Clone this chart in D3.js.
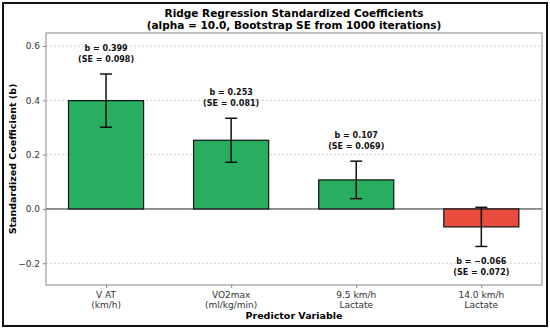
<!DOCTYPE html>
<html>
<head>
<meta charset="utf-8">
<script src="https://cdn.jsdelivr.net/npm/d3@7"></script>
<style>
body { margin: 0; background: #fff; }
text { font-family: "DejaVu Sans", sans-serif; }
</style>
</head>
<body>
<script>
// data
var predictors = ["V AT\n(km/h)", "VO2max\n(ml/kg/min)", "9.5 km/h\nLactate", "14.0 km/h\nLactate"];
var coefs = [0.399, 0.253, 0.107, -0.066];
var ses = [0.098, 0.081, 0.069, 0.072];
var yTicks = [-0.2, 0.0, 0.2, 0.4, 0.6];

var W = 550, H = 329;
var margin = {top: 33, right: 8, bottom: 44, left: 46};
var plotW = W - margin.left - margin.right,
    plotH = H - margin.top - margin.bottom;

var svg = d3.select("body").append("svg")
    .attr('width', W)
    .attr('height', H);

// outer frame
svg.append("rect")
    .attr('x', 3).attr('y', 3)
    .attr('width', W - 6).attr('height', H - 6)
    .attr('fill', "none")
    .attr('stroke', "#111")
    .attr('stroke-width', 2);

var g = svg.append("g")
    .attr('transform', "translate(" + margin.left + "," + margin.top + ")");

var x = d3.scaleLinear().domain([-0.48, 3.485]).range([0, plotW]);
var y = d3.scaleLinear().domain([-0.28, 0.648]).range([plotH, 0]);
var barW = x(0.6) - x(0);

// grid
g.selectAll("line.grid")
    .data(yTicks)
    .enter().append("line")
    .attr('class', "grid")
    .attr('x1', 0).attr('x2', plotW)
    .attr('y1', function(d){ return y(d); })
    .attr('y2', function(d){ return y(d); })
    .style('stroke', "#c8c8c8")
    .style('stroke-width', 0.8)
    .style('stroke-dasharray', "2,2");

// zero line
g.append("line")
    .attr('x1', 0).attr('x2', plotW)
    .attr('y1', y(0)).attr('y2', y(0))
    .style('stroke', "#333")
    .style('stroke-width', 1);

// bars
g.selectAll("rect.bar")
    .data(coefs)
    .enter().append("rect")
    .attr('class', "bar")
    .attr('x', function(d,i){ return x(i) - barW/2; })
    .attr('y', function(d){ return y(Math.max(d, 0)); })
    .attr('width', barW)
    .attr('height', function(d){ return Math.abs(y(d) - y(0)); })
    .style('fill', function(d){ return d >= 0 ? "#27ae60" : "#e74c3c"; })
    .style('stroke', "#111")
    .style('stroke-width', 1.2);

// error bars
var cap = 6;
coefs.forEach(function(d, i){
    var cx = x(i), lo = y(d - ses[i]), hi = y(d + ses[i]);
    var eb = g.append("g").style('stroke', "#111").style('stroke-width', 1.5);
    eb.append("line").attr('x1', cx).attr('x2', cx).attr('y1', lo).attr('y2', hi);
    eb.append("line").attr('x1', cx - cap).attr('x2', cx + cap).attr('y1', lo).attr('y2', lo);
    eb.append("line").attr('x1', cx - cap).attr('x2', cx + cap).attr('y1', hi).attr('y2', hi);

    var t = g.append("text")
        .attr('text-anchor', "middle")
        .style('font-size', "8px")
        .style('font-weight', "bold")
        .style('fill', "#111");
    var base = d >= 0 ? hi - 23 : lo + 18;
    t.append("tspan").attr('x', cx).attr('y', base).text("b = " + d.toFixed(3).replace("-", "\u2212"));
    t.append("tspan").attr('x', cx).attr('y', base + 10.5).text("(SE = " + ses[i].toFixed(3) + ")");
});

// spines
g.append("rect")
    .attr('x', 0).attr('y', 0)
    .attr('width', plotW).attr('height', plotH)
    .attr('fill', "none")
    .style('stroke', "#888")
    .style('stroke-width', 1);

// y axis
var yAxis = g.append("g")
    .call(d3.axisLeft(y).tickValues(yTicks).tickSize(3).tickPadding(3)
        .tickFormat(function(d){ return d3.format(".1f")(d).replace("-", "\u2212"); }));
yAxis.select("path.domain").remove();
yAxis.selectAll("line").style('stroke', "#888");
yAxis.selectAll("text").style('font-size', "9px").style('fill', "#333")
    .style('font-family', "DejaVu Sans");

// x axis
var xAxis = g.append("g")
    .attr('transform', "translate(0," + plotH + ")")
    .call(d3.axisBottom(x).tickValues(d3.range(predictors.length)).tickSize(3).tickFormat(""));
xAxis.select("path.domain").remove();
xAxis.selectAll("line").style('stroke', "#888");
predictors.forEach(function(p, i){
    var t = g.append("text")
        .attr('text-anchor', "middle")
        .style('font-size', "9px")
        .style('fill', "#333");
    p.split("\n").forEach(function(s, k){
        t.append("tspan").attr('x', x(i)).attr('y', plotH + 12.5 + k * 10).text(s);
    });
});

// axis titles
svg.append("text")
    .attr('x', margin.left + plotW/2).attr('y', 319)
    .attr('text-anchor', "middle")
    .style('font-size', "9.5px").style('font-weight', "bold")
    .text("Predictor Variable");

svg.append("text")
    .attr('transform', "translate(15.5," + (margin.top + plotH/2) + ") rotate(-90)")
    .attr('text-anchor', "middle")
    .style('font-size', "9.5px").style('font-weight', "bold")
    .text("Standardized Coefficient (b)");

// title
var title = svg.append("text")
    .attr('text-anchor', "middle")
    .style('font-size', "10.5px").style('font-weight', "bold");
title.append("tspan").attr('x', margin.left + plotW/2).attr('y', 17).text("Ridge Regression Standardized Coefficients");
title.append("tspan").attr('x', margin.left + plotW/2).attr('y', 29).text("(alpha = 10.0, Bootstrap SE from 1000 iterations)");
</script>
</body>
</html>
